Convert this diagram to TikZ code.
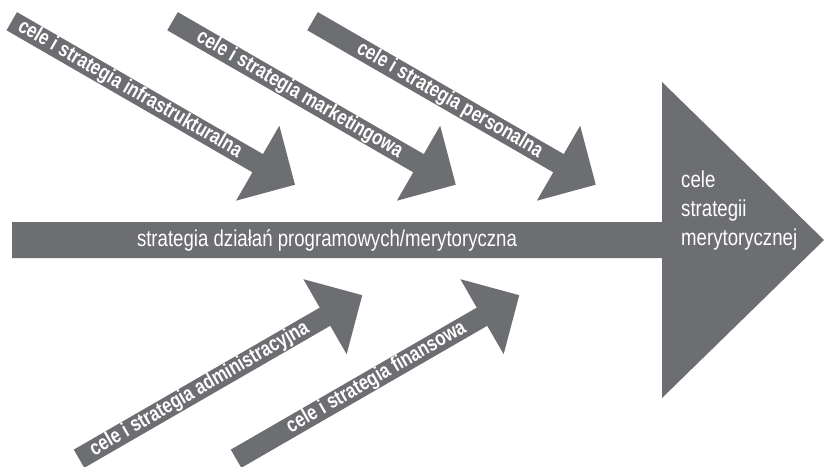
\documentclass[tikz,border=0pt]{standalone}
\usepackage{fontspec}
\setmainfont{Liberation Sans}[FakeStretch=0.81]
\newfontfamily\bonefont{Liberation Sans}[FakeStretch=0.8]
\definecolor{fishgray}{HTML}{6D6E71}
\begin{document}
\begin{tikzpicture}[x=1pt,y=-1pt,
  bone label/.style={text=white, font=\bonefont\bfseries\fontsize{21}{21}\selectfont,
    inner sep=0pt, anchor=east},
  spine label/.style={text=white, font=\fontsize{23}{29}\selectfont, inner sep=0pt},
  pics/bone/.style={code={
    % shaft and head in one outline; origin = middle of the head's base
    \fill[fishgray] (-284,-10.5) -- (0,-10.5) -- (0,-43.3) -- (43,0)
      -- (0,43.3) -- (0,10.5) -- (-284,10.5) -- cycle;
    \node[bone label] (-label) at (-20,0) {#1};
  }}]
\useasboundingbox (0,0) rectangle (824,466);
\clip (0,0) rectangle (824,466);

% main spine with its big head
\fill[fishgray] (12,222) -- (662,222) -- (662,82) -- (824,240)
  -- (662,398) -- (662,258) -- (12,258) -- cycle;
\node[spine label] (spine) at (327,240) {strategia działań programowych/merytoryczna};
\node[spine label, align=left, anchor=west] (goal) at (681,211)
  {cele\\strategii\\merytorycznej};

% upper bones
\pic[rotate=-30, transform shape] (infra) at (257.7,163.2)
  {bone={cele i strategia infrastrukturalna}};
\pic[rotate=-30, transform shape] (market) at (418.5,163.2)
  {bone={cele i strategia marketingowa}};
\pic[rotate=-30, transform shape] (staff) at (558.5,163.2)
  {bone={cele i strategia personalna}};

% lower bones
\pic[rotate=30, transform shape] (admin) at (325,316.7)
  {bone={cele i strategia administracyjna}};
\pic[rotate=30, transform shape] (finance) at (482,316.7)
  {bone={cele i strategia finansowa}};
\end{tikzpicture}
\end{document}
